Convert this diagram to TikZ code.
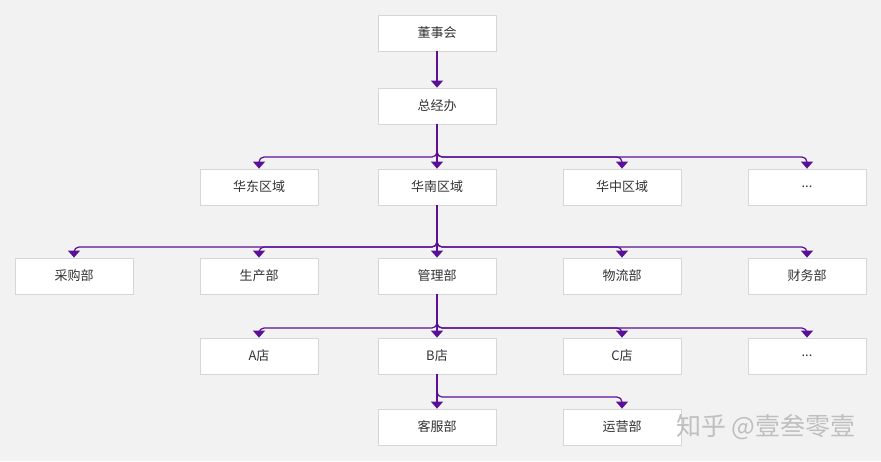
\documentclass[tikz,border=0pt]{standalone}
\usepackage{fontspec}
\setmainfont{Noto Sans CJK SC}
\usetikzlibrary{arrows.meta}
\definecolor{bgcol}{RGB}{242,242,242}
\definecolor{linecol}{RGB}{90,16,150}
\definecolor{edgecol}{RGB}{214,214,214}
\tikzset{
  box/.style={draw=edgecol, fill=white, line width=0.8pt, minimum width=118pt,
    minimum height=36pt, inner sep=0pt, font=\fontsize{13}{15}\selectfont, text=black!80},
  link/.style={draw=linecol, line width=1.2pt, rounded corners=5pt,
    -{Triangle[width=12pt,length=7pt]}}
}
\begin{document}
\begin{tikzpicture}[x=1pt,y=-1pt]
                % background and size
                \fill[bgcol] (0,0) rectangle (881,461);
                \useasboundingbox (0,0) rectangle (881,461);
                % top rows
                \node[box] (dsh) at (437,33) {董事会};
                \node[box] (zjb) at (437,106) {总经办};
                % regions
                \node[box] (hd) at (259,187) {华东区域};
                \node[box] (hn) at (437,187) {华南区域};
                \node[box] (hz) at (622,187) {华中区域};
                \node[box] (qy) at (807,187) {...};
                % departments
                \node[box] (cg) at (74,276) {采购部};
                \node[box] (sc) at (259,276) {生产部};
                \node[box] (gl) at (437,276) {管理部};
                \node[box] (wl) at (622,276) {物流部};
                \node[box] (cw) at (807,276) {财务部};
                % shops
                \node[box] (da) at (259,356) {A店};
                \node[box] (db) at (437,356) {B店};
                \node[box] (dc) at (622,356) {C店};
                \node[box] (dd) at (807,356) {...};
                % B shop
                \node[box] (kf) at (437,427) {客服部};
                \node[box] (yy) at (622,427) {运营部};
                % bus lines
                \coordinate (bus1) at (0,157);
                \coordinate (bus2) at (0,247);
                \coordinate (bus3) at (0,328);
                \coordinate (bus4) at (0,397);
                % connectors
                \draw[link] (dsh) -- (zjb);
                \foreach \c in {hd,hn,hz,qy}
                  \draw[link] (zjb.south) |- (\c.north |- bus1) -- (\c.north);
                \foreach \c in {cg,sc,gl,wl,cw}
                  \draw[link] (hn.south) |- (\c.north |- bus2) -- (\c.north);
                \foreach \c in {da,db,dc,dd}
                  \draw[link] (gl.south) |- (\c.north |- bus3) -- (\c.north);
                \foreach \c in {kf,yy}
                  \draw[link] (db.south) |- (\c.north |- bus4) -- (\c.north);
                % watermark
                \node[text=black!25, font=\fontsize{25}{27}\selectfont] (wm) at (766,427) {知乎 @壹叁零壹};
\end{tikzpicture}
\end{document}
